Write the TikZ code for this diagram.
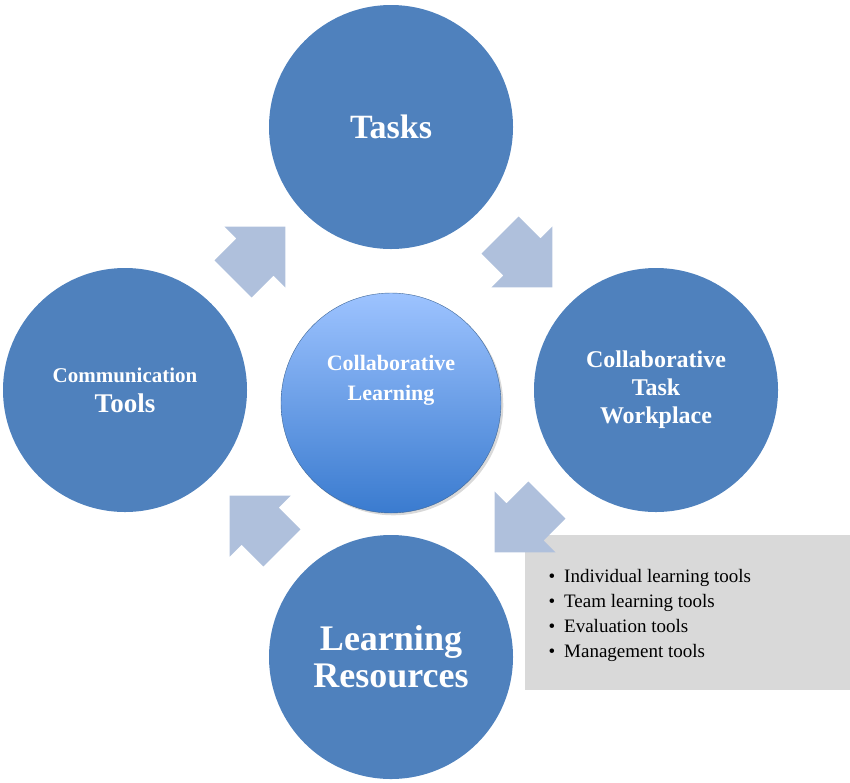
\documentclass[tikz,border=0pt]{standalone}
\usepackage{fontspec}
\setmainfont{Liberation Serif}
\usetikzlibrary{shapes.arrows,shadows}
\definecolor{ringblue}{HTML}{4F81BD}
\definecolor{arrowblue}{HTML}{AFC0DC}
\definecolor{hubtop}{HTML}{9DC3FF}
\definecolor{hubbottom}{HTML}{3A7BCF}
\tikzset{ring/.style = {shape=circle,fill=ringblue,minimum size=244pt,inner sep=0pt,text=white,align=center}}
\tikzset{flow/.style = {shape=single arrow,fill=arrowblue,inner xsep=0pt,inner ysep=26pt,single arrow head extend=17pt,minimum height=74pt}}

\begin{document}
\begin{tikzpicture}[x=1pt,y=-1pt]
                \useasboundingbox (0,0) rectangle (850,782);
                \node[ring,font=\bfseries\fontsize{34}{38}\selectfont] (T) at (391,127) {Tasks};
                \node[ring,font=\bfseries\fontsize{21}{30}\selectfont] (C) at (125,390) {Communication\\{\fontsize{27}{30}\selectfont Tools}};
                \node[ring,font=\bfseries\fontsize{24}{28}\selectfont] (W) at (656,390) {Collaborative\\Task\\Workplace};
                \node[ring,font=\bfseries\fontsize{36}{37}\selectfont] (R) at (391,657) {Learning\\Resources};
                \node[shape=circle,minimum size=220pt,inner sep=0pt,draw=ringblue!80!black,
                      top color=hubtop,bottom color=hubbottom,drop shadow={opacity=0.3},
                      text=white,font=\bfseries\fontsize{22}{30}\selectfont,align=center]
                      (L) at (391,403) {Collaborative\\Learning\\[20pt]};

                \node[fill=black!15,minimum width=325pt,minimum height=155pt,anchor=north west] (box) at (525,535) {};
                \node[anchor=west,align=left,font=\fontsize{19}{25}\selectfont] (list) at (545,615)
                      {\textbullet\hspace{9pt}Individual learning tools\\\textbullet\hspace{9pt}Team learning tools\\\textbullet\hspace{9pt}Evaluation tools\\\textbullet\hspace{9pt}Management tools};

                \node[flow,rotate=45] (a1) at (250,262) {};
                \node[flow,rotate=-45] (a2) at (517,252) {};
                \node[flow,rotate=-135] (a3) at (530,517) {};
                \node[flow,rotate=135] (a4) at (265,531) {};
            \end{tikzpicture}
\end{document}
